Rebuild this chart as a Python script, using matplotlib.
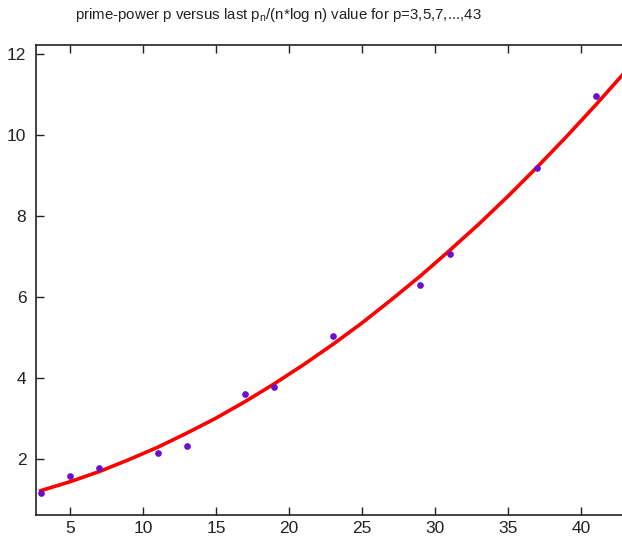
import matplotlib
matplotlib.use("Agg")
import matplotlib.pyplot as plt

plt.rcParams['font.family'] = ['Liberation Sans Narrow', 'Liberation Sans', 'DejaVu Sans']

# primes p and the last p_n/(n*log n) value found for each
p_vals = [3, 5, 7, 11, 13, 17, 19, 23, 29, 31, 37, 41]
ratio_vals = [1.17, 1.58, 1.79, 2.16, 2.33, 3.61, 3.79, 5.04, 6.30, 7.06, 9.19, 10.97]

# fitted trend through those values
fit_p = [3, 5, 7, 9, 11, 13, 15, 17, 19, 21, 23, 25, 27, 29, 31, 33, 35, 37, 39, 41, 43]
fit_vals = [1.22, 1.44, 1.69, 1.98, 2.29, 2.64, 3.01, 3.42, 3.86, 4.33, 4.83,
            5.36, 5.93, 6.52, 7.15, 7.80, 8.49, 9.21, 9.96, 10.74, 11.55]

xticks = [5, 10, 15, 20, 25, 30, 35, 40]
yticks = [2, 4, 6, 8, 10, 12]

fig = plt.figure(figsize=(6.22, 5.39), dpi=100)
ax = fig.add_axes([36 / 622, 24 / 539, 589 / 622, 469.7 / 539])

ax.plot(fit_p, fit_vals, color='#ff0000', linewidth=2.6, zorder=2)
ax.plot(p_vals, ratio_vals, linestyle='none', marker='o', markersize=3.8,
        color='#6a0fcf', zorder=3)

ax.set_xlim(2.68, 43)
ax.set_ylim(0.62, 12.21)
ax.set_xticks(xticks)
ax.set_yticks(yticks)
ax.tick_params(direction='in', length=6, width=1, top=True, right=False,
               labelsize=12.5, colors='#222222')
ax.tick_params(axis='x', pad=4)
ax.tick_params(axis='y', pad=7)
for s in ax.spines.values():
    s.set_linewidth(1.2)
    s.set_color('#222222')

fig.text(278 / 622, 1 - 18.5 / 539,
         r'prime-power p versus last p$_\mathregular{n}$/(n*log n) value for p=3,5,7,...,43',
         ha='center', va='baseline', fontsize=10.8, color='#222222')

fig.savefig('out.png', dpi=100)
